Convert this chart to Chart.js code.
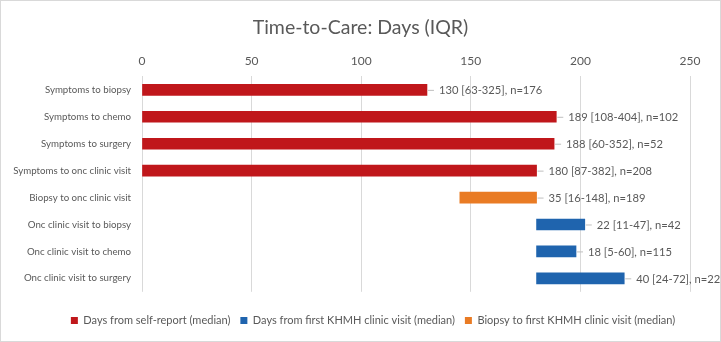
<!DOCTYPE html>
<html><head><meta charset="utf-8">
<script src="https://cdn.jsdelivr.net/npm/chart.js@4"></script>
<style>html,body{margin:0;padding:0;background:#fff}canvas{display:block}</style>
</head><body>
<canvas id="c" width="721" height="342"></canvas>
<script>
const categories = ["Symptoms to biopsy","Symptoms to chemo","Symptoms to surgery","Symptoms to onc clinic visit","Biopsy to onc clinic visit","Onc clinic visit to biopsy","Onc clinic visit to chemo","Onc clinic visit to surgery"];
const medians = [130,189,188,180,35,22,18,40];
const iqrLow = [63,108,60,87,16,11,5,24];
const iqrHigh = [325,404,352,382,148,47,60,72];
const nCounts = [176,102,52,208,189,42,115,22];
// bar start positions (days)
const barStart = [0,0,0,0,145,180,180,180];
// which series each row belongs to
const seriesOf = ["self","self","self","self","biopsy","clinic","clinic","clinic"];
const seriesNames = {self:"Days from self-report (median)", clinic:"Days from first KHMH clinic visit (median)", biopsy:"Biopsy to first KHMH clinic visit (median)"};
const seriesColors = {self:"#C0171B", clinic:"#1F64AE", biopsy:"#E97B24"};
const xTicks = [0,50,100,150,200,250];
const titleText = 'Time-to-Care: Days (IQR)';

const FONT = "Lato, sans-serif";
function rows(key){ return categories.map((c,i)=> seriesOf[i]===key ? [barStart[i], barStart[i]+medians[i]] : null); }
const order = ["self","clinic","biopsy"];
const datasets = order.map(k=>({label:seriesNames[k], data:rows(k), backgroundColor:seriesColors[k], borderWidth:0, grouped:false, barThickness:11}));

const labelPlugin = {
  id:'lbl',
  afterLayout(chart){
    const lg = chart.legend;
    if(lg){ lg.left += 28; lg.right += 28; }
  },
  afterDatasetsDraw(chart){
    const ctx = chart.ctx;
    ctx.save();
    chart.data.datasets.forEach((ds,di)=>{
      const meta = chart.getDatasetMeta(di);
      meta.data.forEach((el,i)=>{
        if(!ds.data[i]) return;
        const x = el.x, y = el.y;
        ctx.strokeStyle = '#bfbfbf'; ctx.lineWidth = 1;
        ctx.beginPath(); ctx.moveTo(x+1, y+0.5); ctx.lineTo(x+7, y+0.5); ctx.stroke();
        ctx.fillStyle = '#595959';
        ctx.font = '11.2px ' + FONT;
        ctx.textBaseline = 'middle'; ctx.textAlign = 'left';
        ctx.fillText(`${medians[i]} [${iqrLow[i]}-${iqrHigh[i]}], n=${nCounts[i]}`, x+12, y+1);
      });
    });
    // title, centred on the full canvas
    ctx.fillStyle = '#595959';
    ctx.font = '19.5px ' + FONT;
    ctx.textAlign = 'center'; ctx.textBaseline = 'middle';
    ctx.fillText(titleText, chart.width/2, 28);
    ctx.restore();
  },
  beforeDraw(chart){
    const ctx = chart.ctx; ctx.save();
    ctx.fillStyle='#fff'; ctx.fillRect(0,0,chart.width,chart.height);
    ctx.strokeStyle='#d9d9d9'; ctx.lineWidth=1;
    ctx.strokeRect(0.5,0.5,chart.width-1,chart.height-1);
    ctx.restore();
  }
};

new Chart(document.getElementById('c'), {
  type:'bar',
  data:{labels:categories, datasets},
  plugins:[labelPlugin],
  options:{
    responsive:false, animation:false, indexAxis:'y',
    layout:{padding:{left:0,right:31,top:46,bottom:6}},
    plugins:{
      title:{display:false},
      legend:{position:'bottom', labels:{color:'#595959', font:{family:FONT,size:11}, boxWidth:7, boxHeight:7, padding:10},
              title:{display:true, text:' ', font:{size:1}, padding:{top:0,bottom:12}}},
      tooltip:{enabled:false}
    },
    scales:{
      x:{position:'top', min:0, max:250, afterBuildTicks(ax){ax.ticks = xTicks.map(v=>({value:v}));},
         grid:{color:'#d9d9d9', drawTicks:false}, border:{display:false},
         ticks:{color:'#595959', font:{family:FONT,size:12}, padding:8}},
      y:{grid:{display:false}, border:{display:false}, afterFit(s){ s.width = 142; },
         ticks:{color:'#595959', font:{family:FONT,size:9.7}, padding:3}}
    }
  }
});
</script>
</body></html>
